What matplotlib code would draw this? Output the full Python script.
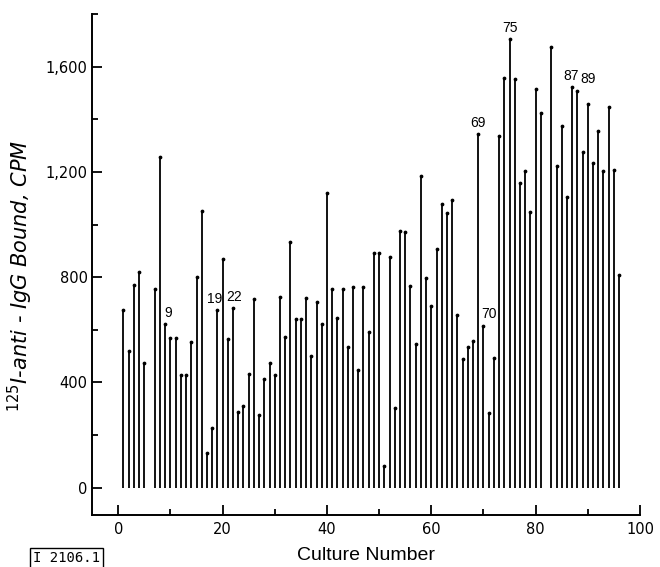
import numpy as np
import matplotlib
matplotlib.use('Agg')
import matplotlib.pyplot as plt
from matplotlib.ticker import FixedLocator, FuncFormatter

plt.rcParams['font.family'] = ['Liberation Sans', 'DejaVu Sans']
plt.rcParams['mathtext.fontset'] = 'dejavusans'

# culture numbers (6 and 82 were not plotted)
cultures = [1, 2, 3, 4, 5, 7, 8, 9, 10, 11, 12, 13, 14, 15, 16, 17, 18, 19, 20,
            21, 22, 23, 24, 25, 26, 27, 28, 29, 30, 31, 32, 33, 34, 35, 36, 37,
            38, 39, 40, 41, 42, 43, 44, 45, 46, 47, 48, 49, 50, 51, 52, 53, 54,
            55, 56, 57, 58, 59, 60, 61, 62, 63, 64, 65, 66, 67, 68, 69, 70, 71,
            72, 73, 74, 75, 76, 77, 78, 79, 80, 81, 83, 84, 85, 86, 87, 88, 89,
            90, 91, 92, 93, 94, 95, 96]

# 125I-anti-IgG bound, CPM
cpm = [675, 521, 771, 820, 473, 755, 1258, 621, 570, 570, 428, 428, 553, 802,
       1052, 131, 228, 675, 869, 564, 682, 289, 311, 432, 717, 276, 414, 473,
       428, 725, 573, 933, 639, 639, 722, 502, 707, 622, 1118, 755, 644, 755,
       535, 764, 447, 764, 590, 890, 890, 84, 877, 303, 976, 973, 768, 545,
       1186, 798, 692, 907, 1077, 1042, 1093, 657, 489, 533, 559, 1345, 616,
       283, 494, 1337, 1555, 1706, 1553, 1157, 1203, 1048, 1515, 1422, 1674,
       1221, 1373, 1103, 1522, 1509, 1274, 1458, 1233, 1354, 1205, 1445, 1208,
       807]

labelled = [9, 19, 22, 69, 70, 75, 87, 89]
x_ticks = [0, 20, 40, 60, 80, 100]
y_ticks = [0, 400, 800, 1200, 1600]

fig = plt.figure(figsize=(6.6, 5.67), dpi=100)
ax = fig.add_axes([0.1389, 0.0917, 0.8308, 0.8836])

ax.vlines(cultures, 0, cpm, colors='black', linewidth=1.3)
ax.plot(cultures, cpm, linestyle='none', marker='o', markersize=1.7,
        color='black')

# numbered cultures; small horizontal nudges as in the original
nudge = {9: 2.0, 19: -2.0, 22: 1.0, 70: 4.0, 75: 0.5, 87: -1.0, 89: 3.8}
lookup = dict(zip(cultures, cpm))
for c in labelled:
    top = lookup[c]
    if c == 89:
        top = lookup[88]
    ax.annotate(str(c), (c, top), xytext=(nudge.get(c, 0), 3),
                textcoords='offset points', ha='center', va='bottom',
                fontsize=10)

ax.set_xlim(-5.1, 100)
ax.set_ylim(-104, 1800)

for s in ['top', 'right']:
    ax.spines[s].set_visible(False)
for s in ['left', 'bottom']:
    ax.spines[s].set_linewidth(1.4)

ax.xaxis.set_major_locator(FixedLocator(x_ticks))
ax.xaxis.set_minor_locator(FixedLocator([10, 30, 50, 70, 90]))
ax.yaxis.set_major_locator(FixedLocator(y_ticks))
ax.yaxis.set_minor_locator(FixedLocator([200, 600, 1000, 1400, 1800]))
ax.yaxis.set_major_formatter(FuncFormatter(lambda v, p: f'{int(v):,}'))

ax.tick_params(which='both', direction='in', width=1.3)
ax.tick_params(axis='x', which='major', length=7, pad=5)
ax.tick_params(axis='x', which='minor', length=4)
ax.tick_params(axis='y', which='major', length=7, pad=3)
ax.tick_params(axis='y', which='minor', length=4)
for lab in ax.get_xticklabels() + ax.get_yticklabels():
    lab.set_fontfamily('DejaVu Sans')
    lab.set_fontsize(10.5)

ax.set_xlabel('Culture Number', fontsize=14, labelpad=7)
ax.set_ylabel(r'$^{125}$I-anti - IgG Bound, CPM', fontsize=15,
              fontstyle='italic', family='DejaVu Sans')
ax.yaxis.set_label_coords(-0.103, 0.477)

fig.text(0.05, 1 - 558 / 567, 'I 2106.1', fontsize=10,
         family='DejaVu Sans Mono', ha='left', va='center',
         bbox=dict(boxstyle='square,pad=0.25', fc='white', ec='black', lw=1))

fig.savefig('out.png', dpi=100)
